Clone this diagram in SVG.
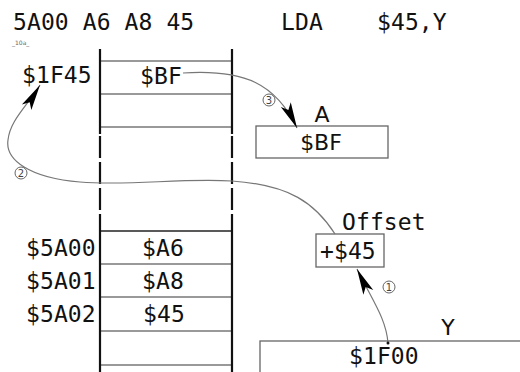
<svg xmlns="http://www.w3.org/2000/svg" width="520" height="372" viewBox="0 0 520 372">
<defs>
<style>
.m{font-family:"DejaVu Sans Mono","Liberation Mono",monospace;font-size:23px;fill:#111;letter-spacing:0.1px}
.s{font-family:"DejaVu Sans","Open Sans",sans-serif;font-size:22px;fill:#111}
.c{font-family:"DejaVu Sans","Noto Sans",sans-serif;font-size:10px;fill:#444}
.cc{fill:#fff;stroke:#555;stroke-width:0.9}
.row{stroke:#777;stroke-width:1.5}
.vl{stroke:#111;stroke-width:2.2;fill:none}
.box{fill:#fff;stroke:#666;stroke-width:1.3}
.con{fill:none;stroke:#777;stroke-width:1.2}
</style>
<marker id="ah" markerUnits="userSpaceOnUse" viewBox="-27 -6 28 12" refX="0" refY="0" markerWidth="28" markerHeight="12" orient="auto">
<path d="M0,0 L-26,-5.5 L-20,0 L-26,5.5 Z" fill="#000"/>
</marker>
</defs>
<rect width="520" height="372" fill="#fff"/>

<g id="header">
<text class="m" x="13" y="30">5A00 A6 A8 45</text>
<text class="m" x="281" y="30">LDA</text>
<text class="m" x="377" y="30">$45,Y</text>
<text x="12" y="45" font-family="DejaVu Sans,sans-serif" font-size="6" fill="#666">_10a_</text>
</g>

<g id="memory">
<line class="row" x1="100" y1="61" x2="232" y2="61"/>
<line class="row" x1="100" y1="94" x2="232" y2="94"/>
<line class="row" x1="100" y1="127" x2="232" y2="127"/>
<line class="row" x1="100" y1="231" x2="232" y2="231" style="stroke:#222"/>
<line class="row" x1="100" y1="264" x2="232" y2="264"/>
<line class="row" x1="100" y1="297" x2="232" y2="297"/>
<line class="row" x1="100" y1="331" x2="232" y2="331"/>
<line class="row" x1="100" y1="365" x2="232" y2="365"/>
<path class="vl" d="M100,49 V134 M232,49 V134 M100,214 V372 M232,214 V372"/>
<path class="vl" d="M100,136 V214 M232,136 V214" stroke-dasharray="22,4"/>
<text class="m" x="22" y="83">$1F45</text>
<text class="m" x="140" y="84">$BF</text>
<text class="m" x="26" y="256">$5A00</text>
<text class="m" x="142" y="256">$A6</text>
<text class="m" x="26" y="289">$5A01</text>
<text class="m" x="142" y="289">$A8</text>
<text class="m" x="26" y="322">$5A02</text>
<text class="m" x="143" y="322">$45</text>
</g>

<g id="regA">
<rect class="box" x="256" y="126" width="132" height="32"/>
<text class="s" x="322" y="122" text-anchor="middle">A</text>
<text class="s" x="321" y="150" text-anchor="middle">$BF</text>
</g>

<g id="offset">
<rect class="box" x="316" y="234" width="68" height="33"/>
<text class="m" x="342" y="230">Offset</text>
<text class="m" x="320" y="259">+$45</text>
</g>

<g id="regY">
<rect class="box" x="260" y="341" width="270" height="40"/>
<text class="s" x="448" y="335" text-anchor="middle">Y</text>
<text class="m" x="349" y="364">$1F00</text>
</g>

<g id="connectors">
<path class="con" d="M183,73 C245,69 276,84 297,128" marker-end="url(#ah)"/>
<path class="con" d="M335,234 C315,203 290,185 232,181 C180,178 130,186 80,182 C30,178 5,160 8,140 C10,120 28,105 40,85" marker-end="url(#ah)"/>
<path class="con" d="M388,343 C386,318 372,300 357,269" marker-end="url(#ah)"/>
<circle cx="388" cy="343" r="1.5" fill="#111"/>
<circle class="cc" cx="269" cy="100" r="6"/>
<text class="c" x="269" y="103.5" text-anchor="middle">3</text>
<circle class="cc" cx="21" cy="173" r="6"/>
<text class="c" x="21" y="176.5" text-anchor="middle">2</text>
<circle class="cc" cx="389" cy="287" r="6"/>
<text class="c" x="389" y="290.5" text-anchor="middle">1</text>
</g>
</svg>
